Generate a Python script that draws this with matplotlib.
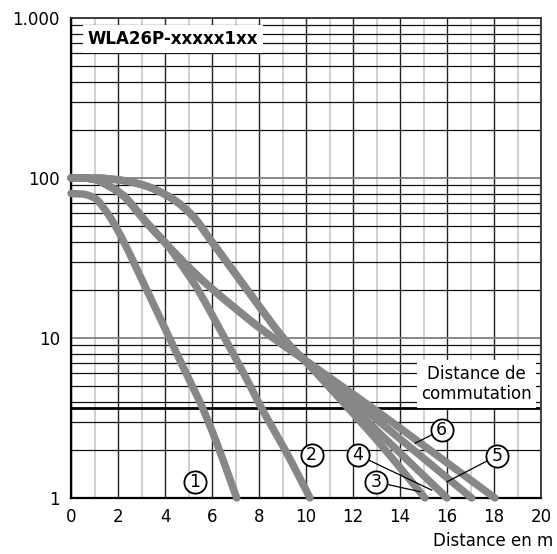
#!/usr/bin/env python
##############################################################################
#
#   Switching distance diagram for WLA26P-xxxxx1xx (log scale).
#
##############################################################################

# imports
import numpy as np
import matplotlib

matplotlib.use("Agg")
from matplotlib import pyplot as plt  # noqa: E402

# data (distance in m, reserve factor)
curve1_dist = [0, 0.5, 1.0, 1.5, 2.0, 2.5, 3.0, 3.5, 4.0, 4.5, 5.0, 5.5, 6.0, 6.5, 7.05]
curve1_val = [80, 79.4, 75, 61.7, 46.8, 33.5, 23.4, 16.4, 11.5, 8.0, 5.6, 3.94, 2.63, 1.68, 1.0]

curve2_dist = [0, 0.5, 1.0, 1.5, 2.16, 3.22, 4.13, 4.8, 5.2, 5.7, 6.5, 7.3, 8.11, 9.18, 10.17]
curve2_val = [100, 100, 98, 91, 79, 52.5, 37.6, 27.2, 22.4, 16.8, 10.2, 6.2, 3.64, 1.91, 1.0]

curve3_dist = [0, 1.0, 2.1, 3.0, 4.2, 5.2, 5.9, 6.5, 7.19, 8.04, 8.7, 9.3, 10.0, 10.6, 11.6, 13.2, 15.06]
curve3_val = [100, 100, 97, 91, 76, 57.5, 41.7, 31.6, 23, 15.5, 11.5, 9.0, 7.1, 5.7, 3.93, 2.14, 1.0]

curve4_dist = [0, 1.0, 2.1, 3.0, 4.2, 5.2, 5.9, 6.5, 7.19, 8.04, 8.7, 9.3, 10.0, 10.9, 12.0, 13.8, 16.0]
curve4_val = [100, 100, 97, 91, 76, 57.5, 41.7, 31.6, 23, 15.5, 11.5, 9.0, 7.1, 5.25, 3.67, 2.04, 1.0]

curve5_dist = [0, 0.5, 1.0, 1.5, 2.16, 3.22, 4.13, 5.2, 5.9, 7.19, 8.1, 9.0, 10.0, 11.2, 12.4, 14.2, 17.05]
curve5_val = [100, 100, 98, 91, 79, 52.5, 37.6, 26, 20.9, 14.5, 11.35, 9.1, 7.2, 5.13, 3.67, 2.21, 1.0]

curve6_dist = [0, 0.5, 1.0, 1.5, 2.16, 3.22, 4.13, 5.2, 5.9, 7.19, 8.1, 9.0, 10.0, 11.6, 12.9, 14.8, 18.04]
curve6_val = [100, 100, 98, 91, 79, 52.5, 37.6, 26, 20.9, 14.5, 11.35, 9.1, 7.2, 4.9, 3.59, 2.24, 1.0]

curve_labels = ["1", "2", "3", "4", "5", "6"]
label_dist = [5.28, 10.24, 12.98, 12.2, 18.14, 15.77]
label_val = [1.26, 1.86, 1.26, 1.86, 1.84, 2.66]

# leader lines: label centre -> point on curve (None = no leader)
leader_dist = [None, None, 14.85, 15.35, 15.99, 14.64]
leader_val = [None, None, 1.095, 1.12, 1.26, 2.2]

switching_distance = 3.64

x_ticks = list(range(0, 21, 2))
y_ticks = [1, 10, 100, 1000]
y_tick_labels = ["1", "10", "100", "1.000"]


def smooth(xs, ys, n=400):
    """Monotone cubic (Fritsch-Carlson) through the points, y in log space."""
    x = np.asarray(xs, dtype=float)
    y = np.log10(np.asarray(ys, dtype=float))
    h = np.diff(x)
    d = np.diff(y) / h
    m = np.zeros_like(y)
    m[0], m[-1] = d[0], d[-1]
    for k in range(1, len(x) - 1):
        if d[k - 1] * d[k] <= 0:
            m[k] = 0.0
        else:
            w1 = 2 * h[k] + h[k - 1]
            w2 = h[k] + 2 * h[k - 1]
            m[k] = (w1 + w2) / (w1 / d[k - 1] + w2 / d[k])
    xx = np.linspace(x[0], x[-1], n)
    idx = np.clip(np.searchsorted(x, xx, side="right") - 1, 0, len(h) - 1)
    t = (xx - x[idx]) / h[idx]
    h00 = 2 * t ** 3 - 3 * t ** 2 + 1
    h10 = t ** 3 - 2 * t ** 2 + t
    h01 = -2 * t ** 3 + 3 * t ** 2
    h11 = t ** 3 - t ** 2
    yy = (
        h00 * y[idx]
        + h10 * h[idx] * m[idx]
        + h01 * y[idx + 1]
        + h11 * h[idx] * m[idx + 1]
    )
    return xx, 10 ** yy


##############################################################################


def main():
    """Main body of the script."""

    plt.rcParams["font.family"] = ["DejaVu Sans"]
    fig = plt.figure(figsize=(5.57, 5.54), dpi=100)
    ax = fig.add_axes([0.1275, 0.1011, 0.8438, 0.8664])

    ax.set_yscale("log")
    ax.set_xlim(0, 20)
    ax.set_ylim(1, 1000)

    # grid
    ax.set_xticks(x_ticks)
    ax.set_xticks(range(1, 20, 2), minor=True)
    ax.set_yticks(y_ticks)
    ax.set_yticklabels(y_tick_labels)
    ax.yaxis.set_minor_locator(matplotlib.ticker.LogLocator(subs=range(2, 10)))
    ax.yaxis.set_minor_formatter(matplotlib.ticker.NullFormatter())
    ax.grid(which="major", axis="x", color="#222222", linewidth=1.0)
    ax.grid(which="minor", axis="x", color="#c4c4c4", linewidth=1.1)
    ax.grid(which="major", axis="y", color="#808080", linewidth=1.3)
    ax.grid(which="minor", axis="y", color="#111111", linewidth=0.9)
    ax.set_axisbelow(True)
    ax.tick_params(which="both", length=0, labelsize=12, colors="black")
    ax.tick_params(axis="y", pad=8)
    ax.tick_params(axis="x", pad=7)
    for side in ("left", "bottom"):
        ax.spines[side].set_linewidth(1.6)
        ax.spines[side].set_color("black")
    for side in ("top", "right"):
        ax.spines[side].set_linewidth(1.3)
        ax.spines[side].set_color("#333333")

    # switching distance line
    ax.axhline(switching_distance, color="black", linewidth=2.0, zorder=2)

    # curves
    curves = [
        (curve1_dist, curve1_val),
        (curve2_dist, curve2_val),
        (curve3_dist, curve3_val),
        (curve4_dist, curve4_val),
        (curve5_dist, curve5_val),
        (curve6_dist, curve6_val),
    ]
    for dist, val in curves:
        sx, sy = smooth(dist, val)
        ax.plot(
            sx,
            sy,
            color="#878787",
            linewidth=5.4,
            solid_capstyle="round",
            solid_joinstyle="round",
            clip_on=False,
            zorder=3,
        )

    # numbered labels
    for lab, lx, ly, ex, ey in zip(
        curve_labels, label_dist, label_val, leader_dist, leader_val
    ):
        if ex is not None:
            ax.plot([lx, ex], [ly, ey], color="black", linewidth=0.9, zorder=4)
        ax.plot(
            lx, ly, "o", markersize=16, markerfacecolor="white",
            markeredgecolor="black", markeredgewidth=1.3, zorder=5,
        )
        ax.text(lx, ly, lab, ha="center", va="center", fontsize=12.5, zorder=6)

    ax.text(
        17.26, 5.16, "Distance de\ncommutation", ha="center", va="center",
        fontsize=12, linespacing=1.2, zorder=4,
        bbox=dict(boxstyle="square,pad=0.25", facecolor="white", edgecolor="none"),
    )

    ax.text(
        0.036, 0.957, "WLA26P-xxxxx1xx", transform=ax.transAxes,
        ha="left", va="center", fontsize=12, fontweight="bold", zorder=4,
        bbox=dict(boxstyle="square,pad=0.3", facecolor="white", edgecolor="none"),
    )

    fig.text(0.993, 0.023, "Distance en m", ha="right", va="center", fontsize=12)

    plt.savefig("out.png", format="png", dpi=100)


##############################################################################


if __name__ == "__main__":
    main()
